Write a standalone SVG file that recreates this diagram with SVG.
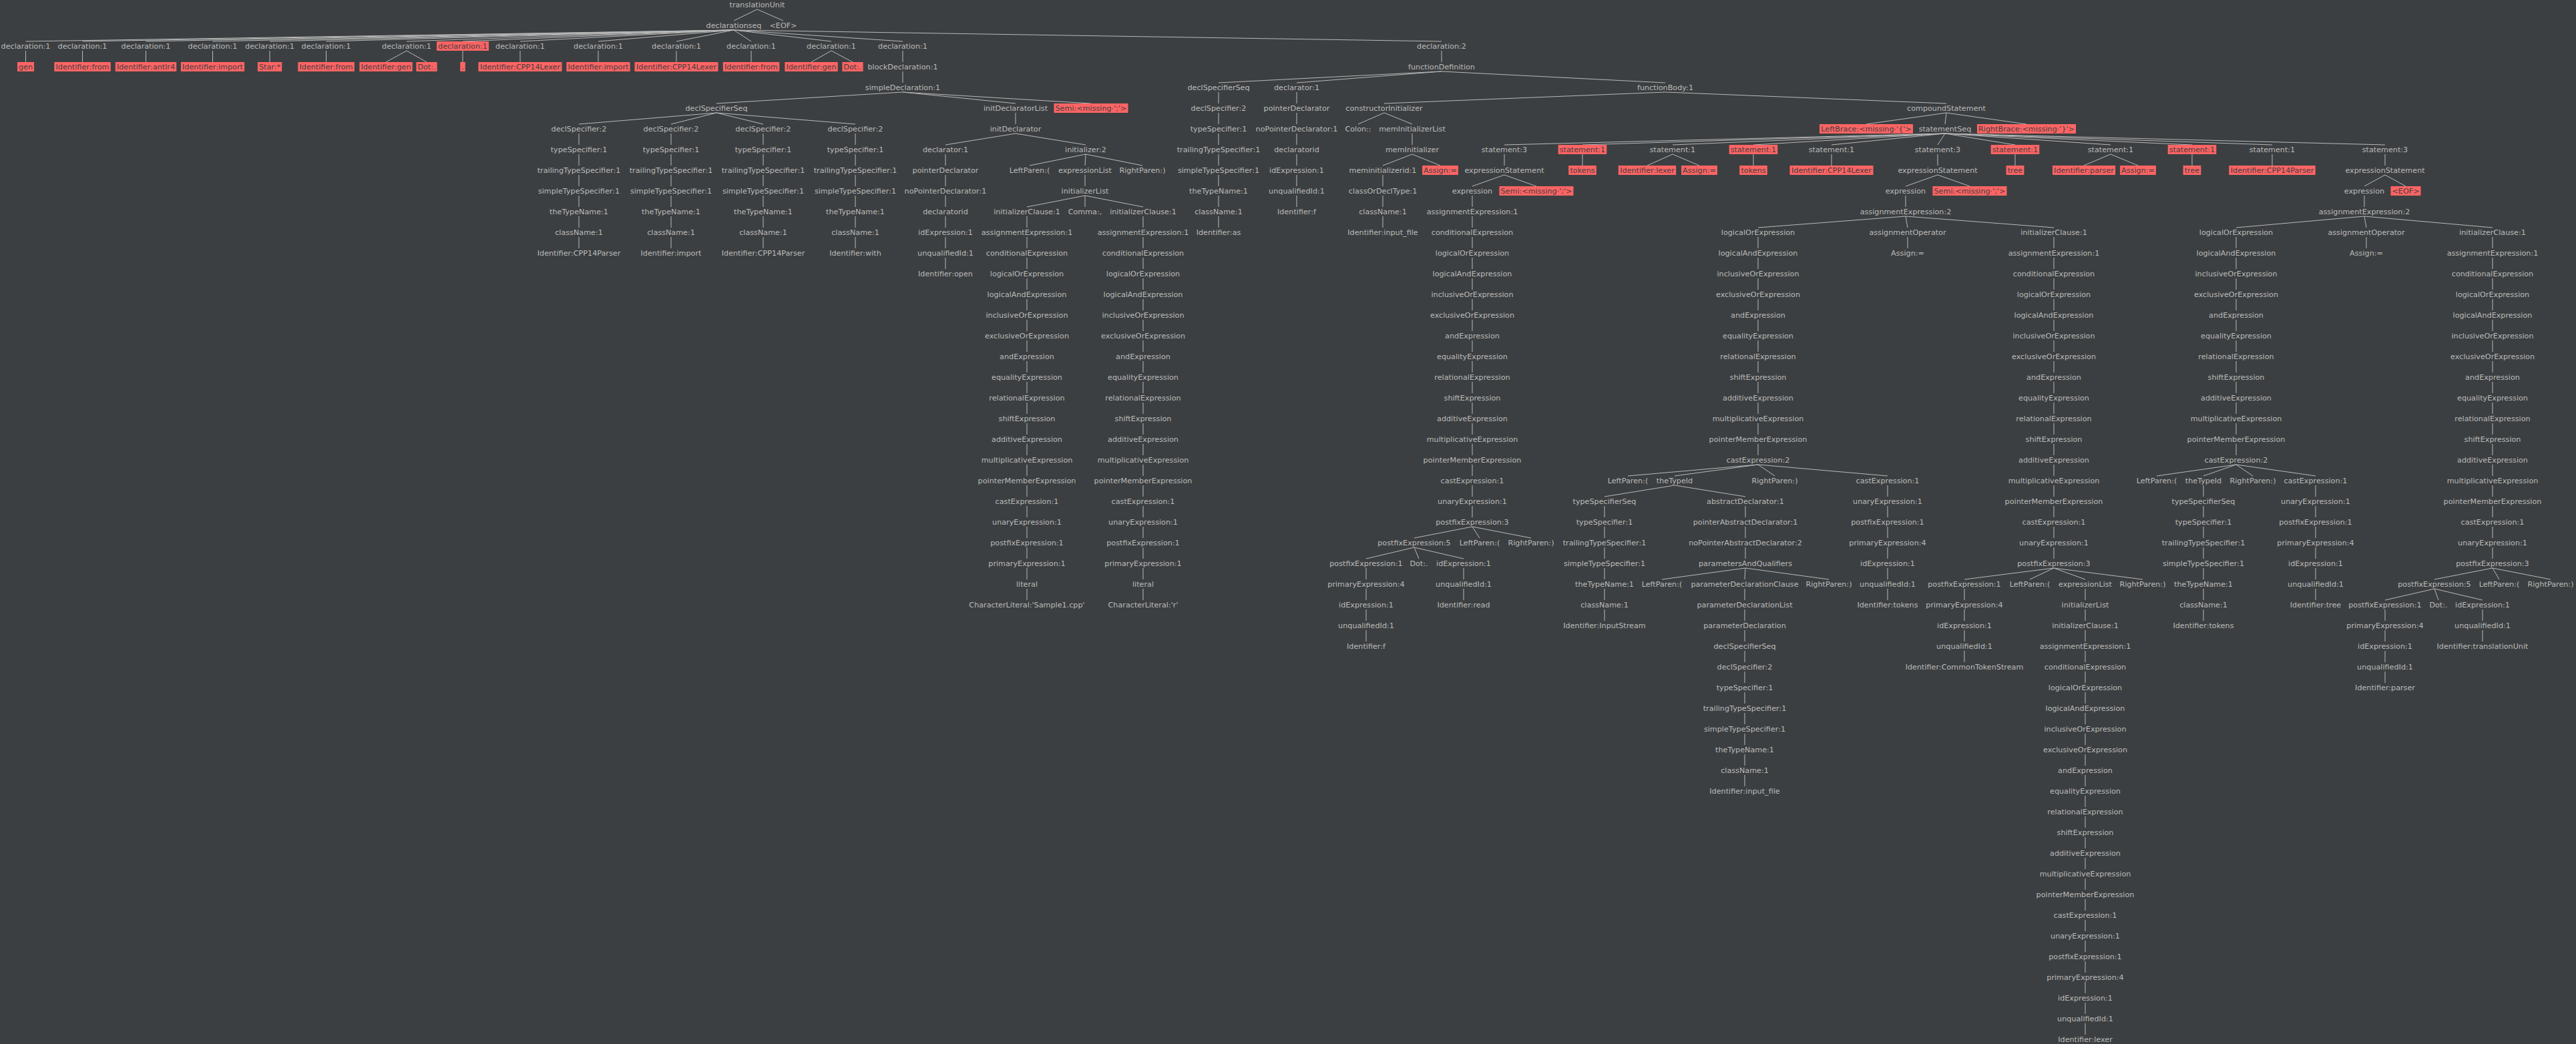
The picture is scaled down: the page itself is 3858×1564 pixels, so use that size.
<svg xmlns="http://www.w3.org/2000/svg" width="3858" height="1564" viewBox="0 0 3858 1564">
<style>
text{font-family:"DejaVu Sans","Liberation Sans",sans-serif;font-size:11.2px;text-anchor:middle;fill:#bbbbbb}
.err text{fill:#3c3f41}
.err rect{fill:#ff6464}
#edges path{fill:none;stroke:#b8b8b8;stroke-width:1}
</style>
<rect width="3858" height="1564" fill="#3c3f41"/>
<g id="edges">
<path d="M1134,14L1099,31M1134,14L1173,31"/>
<path d="M1099,45L38.5,62M1099,45L123.5,62M1099,45L218.5,62M1099,45L318.5,62M1099,45L404,62M1099,45L488.5,62M1099,45L609,62M1099,45L693,62M1099,45L779,62M1099,45L896,62M1099,45L1013,62M1099,45L1125,62M1099,45L1245,62M1099,45L1352,62M1099,45L2159,62"/>
<path d="M38.5,76V93M123.5,76V93M218.5,76V93M318.5,76V93M404,76V93M488.5,76V93M609,76L578,93M609,76L639,93M693,76V93M779,76V93M896,76V93M1013,76V93M1125,76V93M1245,76L1215,93M1245,76L1277,93"/>
<path d="M1352,76v17m0,14v17"/>
<path d="M1352,138L1073,155M1352,138L1521,155M1352,138L1634,155"/>
<path d="M1073,169L867,186M1073,169L1005,186M1073,169L1143,186M1073,169L1281,186"/>
<path d="M867,200v17m0,14v17m0,14v17m0,14v17m0,14v17m0,14v17"/>
<path d="M1005,200v17m0,14v17m0,14v17m0,14v17m0,14v17m0,14v17"/>
<path d="M1143,200v17m0,14v17m0,14v17m0,14v17m0,14v17m0,14v17"/>
<path d="M1281,200v17m0,14v17m0,14v17m0,14v17m0,14v17m0,14v17"/>
<path d="M1521,169v17"/>
<path d="M1521,200L1416,217M1521,200L1626,217"/>
<path d="M1416,231v17m0,14v17m0,14v17m0,14v17m0,14v17m0,14v17"/>
<path d="M1626,231L1542,248M1626,231L1625,248M1626,231L1711,248"/>
<path d="M1625,262v17"/>
<path d="M1625,293L1538,310M1625,293L1625,310M1625,293L1712,310"/>
<path d="M1538,324v17m0,14v17m0,14v17m0,14v17m0,14v17m0,14v17m0,14v17m0,14v17m0,14v17m0,14v17m0,14v17m0,14v17m0,14v17m0,14v17m0,14v17m0,14v17m0,14v17m0,14v17m0,14v17"/>
<path d="M1712,324v17m0,14v17m0,14v17m0,14v17m0,14v17m0,14v17m0,14v17m0,14v17m0,14v17m0,14v17m0,14v17m0,14v17m0,14v17m0,14v17m0,14v17m0,14v17m0,14v17m0,14v17m0,14v17"/>
<path d="M2159,76v17"/>
<path d="M2159,107L1825,124M2159,107L1942,124M2159,107L2494,124"/>
<path d="M1825,138v17m0,14v17m0,14v17m0,14v17m0,14v17m0,14v17m0,14v17"/>
<path d="M1942,138v17m0,14v17m0,14v17m0,14v17m0,14v17m0,14v17"/>
<path d="M2494,138L2073,155M2494,138L2915,155"/>
<path d="M2073,169L2034,186M2073,169L2115,186"/>
<path d="M2115,200v17"/>
<path d="M2115,231L2071,248M2115,231L2157,248"/>
<path d="M2071,262v17m0,14v17m0,14v17"/>
<path d="M2915,169L2795,186M2915,169L2913,186M2915,169L3035,186"/>
<path d="M2913,200L2253,217M2913,200L2370,217M2913,200L2505,217M2913,200L2626,217M2913,200L2743,217M2913,200L2902,217M2913,200L3018,217M2913,200L3161,217M2913,200L3283,217M2913,200L3403,217M2913,200L3572,217"/>
<path d="M2253,231V248M2370,231V248M2505,231L2467,248M2505,231L2545,248M2626,231V248M2743,231V248M2902,231V248M3018,231V248M3161,231L3121,248M3161,231L3202,248M3283,231V248M3403,231V248M3572,231V248"/>
<path d="M2253,262L2205,279M2253,262L2301,279"/>
<path d="M2205,293v17m0,14v17m0,14v17m0,14v17m0,14v17m0,14v17m0,14v17m0,14v17m0,14v17m0,14v17m0,14v17m0,14v17m0,14v17m0,14v17m0,14v17m0,14v17"/>
<path d="M2205,789L2118,806M2205,789L2216,806M2205,789L2293,806"/>
<path d="M2118,820L2046,837M2118,820L2125,837M2118,820L2192,837"/>
<path d="M2046,851v17m0,14v17m0,14v17m0,14v17"/>
<path d="M2192,851v17m0,14v17"/>
<path d="M2902,262L2854,279M2902,262L2950,279"/>
<path d="M2854,293v17"/>
<path d="M2854,324L2633,341M2854,324L2857,341M2854,324L3076,341"/>
<path d="M2857,355v17"/>
<path d="M2633,355v17m0,14v17m0,14v17m0,14v17m0,14v17m0,14v17m0,14v17m0,14v17m0,14v17m0,14v17m0,14v17"/>
<path d="M2633,696L2438,713M2633,696L2508,713M2633,696L2658,713M2633,696L2827,713"/>
<path d="M2508,727L2403,744M2508,727L2614,744"/>
<path d="M2403,758v17m0,14v17m0,14v17m0,14v17m0,14v17m0,14v17"/>
<path d="M2614,758v17m0,14v17m0,14v17"/>
<path d="M2614,851L2489,868M2614,851L2613,868M2614,851L2739,868"/>
<path d="M2613,882v17m0,14v17m0,14v17m0,14v17m0,14v17m0,14v17m0,14v17m0,14v17m0,14v17m0,14v17"/>
<path d="M2827,727v17m0,14v17m0,14v17m0,14v17m0,14v17m0,14v17"/>
<path d="M3076,355v17m0,14v17m0,14v17m0,14v17m0,14v17m0,14v17m0,14v17m0,14v17m0,14v17m0,14v17m0,14v17m0,14v17m0,14v17m0,14v17m0,14v17m0,14v17"/>
<path d="M3076,851L2942,868M3076,851L3040,868M3076,851L3123,868M3076,851L3209,868"/>
<path d="M2942,882v17m0,14v17m0,14v17m0,14v17"/>
<path d="M3123,882v17m0,14v17m0,14v17m0,14v17m0,14v17m0,14v17m0,14v17m0,14v17m0,14v17m0,14v17m0,14v17m0,14v17m0,14v17m0,14v17m0,14v17m0,14v17m0,14v17m0,14v17m0,14v17m0,14v17m0,14v17m0,14v17"/>
<path d="M3572,262L3541,279M3572,262L3603,279"/>
<path d="M3541,293v17"/>
<path d="M3541,324L3349,341M3541,324L3544,341M3541,324L3733,341"/>
<path d="M3544,355v17"/>
<path d="M3349,355v17m0,14v17m0,14v17m0,14v17m0,14v17m0,14v17m0,14v17m0,14v17m0,14v17m0,14v17m0,14v17"/>
<path d="M3349,696L3230,713M3349,696L3300,713M3349,696L3374,713M3349,696L3468,713"/>
<path d="M3300,727v17m0,14v17m0,14v17m0,14v17m0,14v17m0,14v17m0,14v17"/>
<path d="M3468,727v17m0,14v17m0,14v17m0,14v17m0,14v17m0,14v17"/>
<path d="M3733,355v17m0,14v17m0,14v17m0,14v17m0,14v17m0,14v17m0,14v17m0,14v17m0,14v17m0,14v17m0,14v17m0,14v17m0,14v17m0,14v17m0,14v17m0,14v17"/>
<path d="M3733,851L3646,868M3733,851L3743,868M3733,851L3820,868"/>
<path d="M3646,882L3572,899M3646,882L3652,899M3646,882L3718,899"/>
<path d="M3572,913v17m0,14v17m0,14v17m0,14v17"/>
<path d="M3718,913v17m0,14v17"/>
</g>
<g id="nodes">
<g id="n1"><text x="1134" y="11">translationUnit</text></g>
<g id="n2"><text x="1099" y="42">declarationseq</text></g>
<g id="n3"><text x="1173" y="42">&lt;EOF&gt;</text></g>
<g id="n4"><text x="38.5" y="73">declaration:1</text></g>
<g id="n5"><text x="123.5" y="73">declaration:1</text></g>
<g id="n6"><text x="218.5" y="73">declaration:1</text></g>
<g id="n7"><text x="318.5" y="73">declaration:1</text></g>
<g id="n8"><text x="404" y="73">declaration:1</text></g>
<g id="n9"><text x="488.5" y="73">declaration:1</text></g>
<g id="n10"><text x="609" y="73">declaration:1</text></g>
<g id="n11" class="err"><rect x="654" y="62" width="78" height="14"/><text x="693" y="73">declaration:1</text></g>
<g id="n12"><text x="779" y="73">declaration:1</text></g>
<g id="n13"><text x="896" y="73">declaration:1</text></g>
<g id="n14"><text x="1013" y="73">declaration:1</text></g>
<g id="n15"><text x="1125" y="73">declaration:1</text></g>
<g id="n16"><text x="1245" y="73">declaration:1</text></g>
<g id="n17"><text x="1352" y="73">declaration:1</text></g>
<g id="n18"><text x="2159" y="73">declaration:2</text></g>
<g id="n19" class="err"><rect x="26" y="93" width="25" height="14"/><text x="38.5" y="104">gen</text></g>
<g id="n20" class="err"><rect x="81.3" y="93" width="84.5" height="14"/><text x="123.5" y="104">Identifier:from</text></g>
<g id="n21" class="err"><rect x="172.8" y="93" width="91.4" height="14"/><text x="218.5" y="104">Identifier:antlr4</text></g>
<g id="n22" class="err"><rect x="270.9" y="93" width="95.2" height="14"/><text x="318.5" y="104">Identifier:import</text></g>
<g id="n23" class="err"><rect x="385.9" y="93" width="36.3" height="14"/><text x="404" y="104">Star:*</text></g>
<g id="n24" class="err"><rect x="446.3" y="93" width="84.5" height="14"/><text x="488.5" y="104">Identifier:from</text></g>
<g id="n25" class="err"><rect x="538.4" y="93" width="79.3" height="14"/><text x="578" y="104">Identifier:gen</text></g>
<g id="n26" class="err"><rect x="623.4" y="93" width="31.2" height="14"/><text x="639" y="104">Dot:.</text></g>
<g id="n27" class="err"><rect x="689.2" y="93" width="7.6" height="14"/><text x="693" y="104">.</text></g>
<g id="n28" class="err"><rect x="716.5" y="93" width="125" height="14"/><text x="779" y="104">Identifier:CPP14Lexer</text></g>
<g id="n29" class="err"><rect x="848.4" y="93" width="95.2" height="14"/><text x="896" y="104">Identifier:import</text></g>
<g id="n30" class="err"><rect x="950.5" y="93" width="125" height="14"/><text x="1013" y="104">Identifier:CPP14Lexer</text></g>
<g id="n31" class="err"><rect x="1082.8" y="93" width="84.5" height="14"/><text x="1125" y="104">Identifier:from</text></g>
<g id="n32" class="err"><rect x="1175.4" y="93" width="79.3" height="14"/><text x="1215" y="104">Identifier:gen</text></g>
<g id="n33" class="err"><rect x="1261.4" y="93" width="31.2" height="14"/><text x="1277" y="104">Dot:.</text></g>
<g id="n34"><text x="1352" y="104">blockDeclaration:1</text></g>
<g id="n35"><text x="2159" y="104">functionDefinition</text></g>
<g id="n36"><text x="1352" y="135">simpleDeclaration:1</text></g>
<g id="n37"><text x="1825" y="135">declSpecifierSeq</text></g>
<g id="n38"><text x="1942" y="135">declarator:1</text></g>
<g id="n39"><text x="2494" y="135">functionBody:1</text></g>
<g id="n40"><text x="1073" y="166">declSpecifierSeq</text></g>
<g id="n41"><text x="1521" y="166">initDeclaratorList</text></g>
<g id="n42" class="err"><rect x="1578.5" y="155" width="111" height="14"/><text x="1634" y="166">Semi:&lt;missing·';'&gt;</text></g>
<g id="n43"><text x="1825" y="166">declSpecifier:2</text></g>
<g id="n44"><text x="1942" y="166">pointerDeclarator</text></g>
<g id="n45"><text x="2073" y="166">constructorInitializer</text></g>
<g id="n46"><text x="2915" y="166">compoundStatement</text></g>
<g id="n47"><text x="867" y="197">declSpecifier:2</text></g>
<g id="n48"><text x="1005" y="197">declSpecifier:2</text></g>
<g id="n49"><text x="1143" y="197">declSpecifier:2</text></g>
<g id="n50"><text x="1281" y="197">declSpecifier:2</text></g>
<g id="n51"><text x="1521" y="197">initDeclarator</text></g>
<g id="n52"><text x="1825" y="197">typeSpecifier:1</text></g>
<g id="n53"><text x="1942" y="197">noPointerDeclarator:1</text></g>
<g id="n54"><text x="2034" y="197">Colon::</text></g>
<g id="n55"><text x="2115" y="197">memInitializerList</text></g>
<g id="n56" class="err"><rect x="2725" y="186" width="140" height="14"/><text x="2795" y="197">LeftBrace:&lt;missing·'{'&gt;</text></g>
<g id="n57"><text x="2913" y="197">statementSeq</text></g>
<g id="n58" class="err"><rect x="2961" y="186" width="148" height="14"/><text x="3035" y="197">RightBrace:&lt;missing·'}'&gt;</text></g>
<g id="n59"><text x="867" y="228">typeSpecifier:1</text></g>
<g id="n60"><text x="1005" y="228">typeSpecifier:1</text></g>
<g id="n61"><text x="1143" y="228">typeSpecifier:1</text></g>
<g id="n62"><text x="1281" y="228">typeSpecifier:1</text></g>
<g id="n63"><text x="1416" y="228">declarator:1</text></g>
<g id="n64"><text x="1626" y="228">initializer:2</text></g>
<g id="n65"><text x="1825" y="228">trailingTypeSpecifier:1</text></g>
<g id="n66"><text x="1942" y="228">declaratorid</text></g>
<g id="n67"><text x="2115" y="228">memInitializer</text></g>
<g id="n68"><text x="2253" y="228">statement:3</text></g>
<g id="n69" class="err"><rect x="2333.7" y="217" width="72.6" height="14"/><text x="2370" y="228">statement:1</text></g>
<g id="n70"><text x="2505" y="228">statement:1</text></g>
<g id="n71" class="err"><rect x="2589.7" y="217" width="72.6" height="14"/><text x="2626" y="228">statement:1</text></g>
<g id="n72"><text x="2743" y="228">statement:1</text></g>
<g id="n73"><text x="2902" y="228">statement:3</text></g>
<g id="n74" class="err"><rect x="2981.7" y="217" width="72.6" height="14"/><text x="3018" y="228">statement:1</text></g>
<g id="n75"><text x="3161" y="228">statement:1</text></g>
<g id="n76" class="err"><rect x="3246.7" y="217" width="72.6" height="14"/><text x="3283" y="228">statement:1</text></g>
<g id="n77"><text x="3403" y="228">statement:1</text></g>
<g id="n78"><text x="3572" y="228">statement:3</text></g>
<g id="n79"><text x="867" y="259">trailingTypeSpecifier:1</text></g>
<g id="n80"><text x="1005" y="259">trailingTypeSpecifier:1</text></g>
<g id="n81"><text x="1143" y="259">trailingTypeSpecifier:1</text></g>
<g id="n82"><text x="1281" y="259">trailingTypeSpecifier:1</text></g>
<g id="n83"><text x="1416" y="259">pointerDeclarator</text></g>
<g id="n84"><text x="1542" y="259">LeftParen:(</text></g>
<g id="n85"><text x="1625" y="259">expressionList</text></g>
<g id="n86"><text x="1711" y="259">RightParen:)</text></g>
<g id="n87"><text x="1825" y="259">simpleTypeSpecifier:1</text></g>
<g id="n88"><text x="1942" y="259">idExpression:1</text></g>
<g id="n89"><text x="2071" y="259">meminitializerid:1</text></g>
<g id="n90" class="err"><rect x="2130.1" y="248" width="53.8" height="14"/><text x="2157" y="259">Assign:=</text></g>
<g id="n91"><text x="2253" y="259">expressionStatement</text></g>
<g id="n92" class="err"><rect x="2349.2" y="248" width="41.6" height="14"/><text x="2370" y="259">tokens</text></g>
<g id="n93" class="err"><rect x="2423.8" y="248" width="86.4" height="14"/><text x="2467" y="259">Identifier:lexer</text></g>
<g id="n94" class="err"><rect x="2518.1" y="248" width="53.8" height="14"/><text x="2545" y="259">Assign:=</text></g>
<g id="n95" class="err"><rect x="2605.2" y="248" width="41.6" height="14"/><text x="2626" y="259">tokens</text></g>
<g id="n96" class="err"><rect x="2680.5" y="248" width="125" height="14"/><text x="2743" y="259">Identifier:CPP14Lexer</text></g>
<g id="n97"><text x="2902" y="259">expressionStatement</text></g>
<g id="n98" class="err"><rect x="3004.6" y="248" width="26.8" height="14"/><text x="3018" y="259">tree</text></g>
<g id="n99" class="err"><rect x="3074" y="248" width="94.1" height="14"/><text x="3121" y="259">Identifier:parser</text></g>
<g id="n100" class="err"><rect x="3175.1" y="248" width="53.8" height="14"/><text x="3202" y="259">Assign:=</text></g>
<g id="n101" class="err"><rect x="3269.6" y="248" width="26.8" height="14"/><text x="3283" y="259">tree</text></g>
<g id="n102" class="err"><rect x="3338.3" y="248" width="129.4" height="14"/><text x="3403" y="259">Identifier:CPP14Parser</text></g>
<g id="n103"><text x="3572" y="259">expressionStatement</text></g>
<g id="n104"><text x="867" y="290">simpleTypeSpecifier:1</text></g>
<g id="n105"><text x="1005" y="290">simpleTypeSpecifier:1</text></g>
<g id="n106"><text x="1143" y="290">simpleTypeSpecifier:1</text></g>
<g id="n107"><text x="1281" y="290">simpleTypeSpecifier:1</text></g>
<g id="n108"><text x="1416" y="290">noPointerDeclarator:1</text></g>
<g id="n109"><text x="1625" y="290">initializerList</text></g>
<g id="n110"><text x="1825" y="290">theTypeName:1</text></g>
<g id="n111"><text x="1942" y="290">unqualifiedId:1</text></g>
<g id="n112"><text x="2071" y="290">classOrDeclType:1</text></g>
<g id="n113"><text x="2205" y="290">expression</text></g>
<g id="n114" class="err"><rect x="2245.5" y="279" width="111" height="14"/><text x="2301" y="290">Semi:&lt;missing·';'&gt;</text></g>
<g id="n115"><text x="2854" y="290">expression</text></g>
<g id="n116" class="err"><rect x="2894.5" y="279" width="111" height="14"/><text x="2950" y="290">Semi:&lt;missing·';'&gt;</text></g>
<g id="n117"><text x="3541" y="290">expression</text></g>
<g id="n118" class="err"><rect x="3580.5" y="279" width="45" height="14"/><text x="3603" y="290">&lt;EOF&gt;</text></g>
<g id="n119"><text x="867" y="321">theTypeName:1</text></g>
<g id="n120"><text x="1005" y="321">theTypeName:1</text></g>
<g id="n121"><text x="1143" y="321">theTypeName:1</text></g>
<g id="n122"><text x="1281" y="321">theTypeName:1</text></g>
<g id="n123"><text x="1416" y="321">declaratorid</text></g>
<g id="n124"><text x="1538" y="321">initializerClause:1</text></g>
<g id="n125"><text x="1625" y="321">Comma:,</text></g>
<g id="n126"><text x="1712" y="321">initializerClause:1</text></g>
<g id="n127"><text x="1825" y="321">className:1</text></g>
<g id="n128"><text x="1942" y="321">Identifier:f</text></g>
<g id="n129"><text x="2071" y="321">className:1</text></g>
<g id="n130"><text x="2205" y="321">assignmentExpression:1</text></g>
<g id="n131"><text x="2854" y="321">assignmentExpression:2</text></g>
<g id="n132"><text x="3541" y="321">assignmentExpression:2</text></g>
<g id="n133"><text x="867" y="352">className:1</text></g>
<g id="n134"><text x="1005" y="352">className:1</text></g>
<g id="n135"><text x="1143" y="352">className:1</text></g>
<g id="n136"><text x="1281" y="352">className:1</text></g>
<g id="n137"><text x="1416" y="352">idExpression:1</text></g>
<g id="n138"><text x="1538" y="352">assignmentExpression:1</text></g>
<g id="n139"><text x="1712" y="352">assignmentExpression:1</text></g>
<g id="n140"><text x="1825" y="352">Identifier:as</text></g>
<g id="n141"><text x="2071" y="352">Identifier:input_file</text></g>
<g id="n142"><text x="2205" y="352">conditionalExpression</text></g>
<g id="n143"><text x="2633" y="352">logicalOrExpression</text></g>
<g id="n144"><text x="2857" y="352">assignmentOperator</text></g>
<g id="n145"><text x="3076" y="352">initializerClause:1</text></g>
<g id="n146"><text x="3349" y="352">logicalOrExpression</text></g>
<g id="n147"><text x="3544" y="352">assignmentOperator</text></g>
<g id="n148"><text x="3733" y="352">initializerClause:1</text></g>
<g id="n149"><text x="867" y="383">Identifier:CPP14Parser</text></g>
<g id="n150"><text x="1005" y="383">Identifier:import</text></g>
<g id="n151"><text x="1143" y="383">Identifier:CPP14Parser</text></g>
<g id="n152"><text x="1281" y="383">Identifier:with</text></g>
<g id="n153"><text x="1416" y="383">unqualifiedId:1</text></g>
<g id="n154"><text x="1538" y="383">conditionalExpression</text></g>
<g id="n155"><text x="1712" y="383">conditionalExpression</text></g>
<g id="n156"><text x="2205" y="383">logicalOrExpression</text></g>
<g id="n157"><text x="2633" y="383">logicalAndExpression</text></g>
<g id="n158"><text x="2857" y="383">Assign:=</text></g>
<g id="n159"><text x="3076" y="383">assignmentExpression:1</text></g>
<g id="n160"><text x="3349" y="383">logicalAndExpression</text></g>
<g id="n161"><text x="3544" y="383">Assign:=</text></g>
<g id="n162"><text x="3733" y="383">assignmentExpression:1</text></g>
<g id="n163"><text x="1416" y="414">Identifier:open</text></g>
<g id="n164"><text x="1538" y="414">logicalOrExpression</text></g>
<g id="n165"><text x="1712" y="414">logicalOrExpression</text></g>
<g id="n166"><text x="2205" y="414">logicalAndExpression</text></g>
<g id="n167"><text x="2633" y="414">inclusiveOrExpression</text></g>
<g id="n168"><text x="3076" y="414">conditionalExpression</text></g>
<g id="n169"><text x="3349" y="414">inclusiveOrExpression</text></g>
<g id="n170"><text x="3733" y="414">conditionalExpression</text></g>
<g id="n171"><text x="1538" y="445">logicalAndExpression</text></g>
<g id="n172"><text x="1712" y="445">logicalAndExpression</text></g>
<g id="n173"><text x="2205" y="445">inclusiveOrExpression</text></g>
<g id="n174"><text x="2633" y="445">exclusiveOrExpression</text></g>
<g id="n175"><text x="3076" y="445">logicalOrExpression</text></g>
<g id="n176"><text x="3349" y="445">exclusiveOrExpression</text></g>
<g id="n177"><text x="3733" y="445">logicalOrExpression</text></g>
<g id="n178"><text x="1538" y="476">inclusiveOrExpression</text></g>
<g id="n179"><text x="1712" y="476">inclusiveOrExpression</text></g>
<g id="n180"><text x="2205" y="476">exclusiveOrExpression</text></g>
<g id="n181"><text x="2633" y="476">andExpression</text></g>
<g id="n182"><text x="3076" y="476">logicalAndExpression</text></g>
<g id="n183"><text x="3349" y="476">andExpression</text></g>
<g id="n184"><text x="3733" y="476">logicalAndExpression</text></g>
<g id="n185"><text x="1538" y="507">exclusiveOrExpression</text></g>
<g id="n186"><text x="1712" y="507">exclusiveOrExpression</text></g>
<g id="n187"><text x="2205" y="507">andExpression</text></g>
<g id="n188"><text x="2633" y="507">equalityExpression</text></g>
<g id="n189"><text x="3076" y="507">inclusiveOrExpression</text></g>
<g id="n190"><text x="3349" y="507">equalityExpression</text></g>
<g id="n191"><text x="3733" y="507">inclusiveOrExpression</text></g>
<g id="n192"><text x="1538" y="538">andExpression</text></g>
<g id="n193"><text x="1712" y="538">andExpression</text></g>
<g id="n194"><text x="2205" y="538">equalityExpression</text></g>
<g id="n195"><text x="2633" y="538">relationalExpression</text></g>
<g id="n196"><text x="3076" y="538">exclusiveOrExpression</text></g>
<g id="n197"><text x="3349" y="538">relationalExpression</text></g>
<g id="n198"><text x="3733" y="538">exclusiveOrExpression</text></g>
<g id="n199"><text x="1538" y="569">equalityExpression</text></g>
<g id="n200"><text x="1712" y="569">equalityExpression</text></g>
<g id="n201"><text x="2205" y="569">relationalExpression</text></g>
<g id="n202"><text x="2633" y="569">shiftExpression</text></g>
<g id="n203"><text x="3076" y="569">andExpression</text></g>
<g id="n204"><text x="3349" y="569">shiftExpression</text></g>
<g id="n205"><text x="3733" y="569">andExpression</text></g>
<g id="n206"><text x="1538" y="600">relationalExpression</text></g>
<g id="n207"><text x="1712" y="600">relationalExpression</text></g>
<g id="n208"><text x="2205" y="600">shiftExpression</text></g>
<g id="n209"><text x="2633" y="600">additiveExpression</text></g>
<g id="n210"><text x="3076" y="600">equalityExpression</text></g>
<g id="n211"><text x="3349" y="600">additiveExpression</text></g>
<g id="n212"><text x="3733" y="600">equalityExpression</text></g>
<g id="n213"><text x="1538" y="631">shiftExpression</text></g>
<g id="n214"><text x="1712" y="631">shiftExpression</text></g>
<g id="n215"><text x="2205" y="631">additiveExpression</text></g>
<g id="n216"><text x="2633" y="631">multiplicativeExpression</text></g>
<g id="n217"><text x="3076" y="631">relationalExpression</text></g>
<g id="n218"><text x="3349" y="631">multiplicativeExpression</text></g>
<g id="n219"><text x="3733" y="631">relationalExpression</text></g>
<g id="n220"><text x="1538" y="662">additiveExpression</text></g>
<g id="n221"><text x="1712" y="662">additiveExpression</text></g>
<g id="n222"><text x="2205" y="662">multiplicativeExpression</text></g>
<g id="n223"><text x="2633" y="662">pointerMemberExpression</text></g>
<g id="n224"><text x="3076" y="662">shiftExpression</text></g>
<g id="n225"><text x="3349" y="662">pointerMemberExpression</text></g>
<g id="n226"><text x="3733" y="662">shiftExpression</text></g>
<g id="n227"><text x="1538" y="693">multiplicativeExpression</text></g>
<g id="n228"><text x="1712" y="693">multiplicativeExpression</text></g>
<g id="n229"><text x="2205" y="693">pointerMemberExpression</text></g>
<g id="n230"><text x="2633" y="693">castExpression:2</text></g>
<g id="n231"><text x="3076" y="693">additiveExpression</text></g>
<g id="n232"><text x="3349" y="693">castExpression:2</text></g>
<g id="n233"><text x="3733" y="693">additiveExpression</text></g>
<g id="n234"><text x="1538" y="724">pointerMemberExpression</text></g>
<g id="n235"><text x="1712" y="724">pointerMemberExpression</text></g>
<g id="n236"><text x="2205" y="724">castExpression:1</text></g>
<g id="n237"><text x="2438" y="724">LeftParen:(</text></g>
<g id="n238"><text x="2508" y="724">theTypeId</text></g>
<g id="n239"><text x="2658" y="724">RightParen:)</text></g>
<g id="n240"><text x="2827" y="724">castExpression:1</text></g>
<g id="n241"><text x="3076" y="724">multiplicativeExpression</text></g>
<g id="n242"><text x="3230" y="724">LeftParen:(</text></g>
<g id="n243"><text x="3300" y="724">theTypeId</text></g>
<g id="n244"><text x="3374" y="724">RightParen:)</text></g>
<g id="n245"><text x="3468" y="724">castExpression:1</text></g>
<g id="n246"><text x="3733" y="724">multiplicativeExpression</text></g>
<g id="n247"><text x="1538" y="755">castExpression:1</text></g>
<g id="n248"><text x="1712" y="755">castExpression:1</text></g>
<g id="n249"><text x="2205" y="755">unaryExpression:1</text></g>
<g id="n250"><text x="2403" y="755">typeSpecifierSeq</text></g>
<g id="n251"><text x="2614" y="755">abstractDeclarator:1</text></g>
<g id="n252"><text x="2827" y="755">unaryExpression:1</text></g>
<g id="n253"><text x="3076" y="755">pointerMemberExpression</text></g>
<g id="n254"><text x="3300" y="755">typeSpecifierSeq</text></g>
<g id="n255"><text x="3468" y="755">unaryExpression:1</text></g>
<g id="n256"><text x="3733" y="755">pointerMemberExpression</text></g>
<g id="n257"><text x="1538" y="786">unaryExpression:1</text></g>
<g id="n258"><text x="1712" y="786">unaryExpression:1</text></g>
<g id="n259"><text x="2205" y="786">postfixExpression:3</text></g>
<g id="n260"><text x="2403" y="786">typeSpecifier:1</text></g>
<g id="n261"><text x="2614" y="786">pointerAbstractDeclarator:1</text></g>
<g id="n262"><text x="2827" y="786">postfixExpression:1</text></g>
<g id="n263"><text x="3076" y="786">castExpression:1</text></g>
<g id="n264"><text x="3300" y="786">typeSpecifier:1</text></g>
<g id="n265"><text x="3468" y="786">postfixExpression:1</text></g>
<g id="n266"><text x="3733" y="786">castExpression:1</text></g>
<g id="n267"><text x="1538" y="817">postfixExpression:1</text></g>
<g id="n268"><text x="1712" y="817">postfixExpression:1</text></g>
<g id="n269"><text x="2118" y="817">postfixExpression:5</text></g>
<g id="n270"><text x="2216" y="817">LeftParen:(</text></g>
<g id="n271"><text x="2293" y="817">RightParen:)</text></g>
<g id="n272"><text x="2403" y="817">trailingTypeSpecifier:1</text></g>
<g id="n273"><text x="2614" y="817">noPointerAbstractDeclarator:2</text></g>
<g id="n274"><text x="2827" y="817">primaryExpression:4</text></g>
<g id="n275"><text x="3076" y="817">unaryExpression:1</text></g>
<g id="n276"><text x="3300" y="817">trailingTypeSpecifier:1</text></g>
<g id="n277"><text x="3468" y="817">primaryExpression:4</text></g>
<g id="n278"><text x="3733" y="817">unaryExpression:1</text></g>
<g id="n279"><text x="1538" y="848">primaryExpression:1</text></g>
<g id="n280"><text x="1712" y="848">primaryExpression:1</text></g>
<g id="n281"><text x="2046" y="848">postfixExpression:1</text></g>
<g id="n282"><text x="2125" y="848">Dot:.</text></g>
<g id="n283"><text x="2192" y="848">idExpression:1</text></g>
<g id="n284"><text x="2403" y="848">simpleTypeSpecifier:1</text></g>
<g id="n285"><text x="2614" y="848">parametersAndQualifiers</text></g>
<g id="n286"><text x="2827" y="848">idExpression:1</text></g>
<g id="n287"><text x="3076" y="848">postfixExpression:3</text></g>
<g id="n288"><text x="3300" y="848">simpleTypeSpecifier:1</text></g>
<g id="n289"><text x="3468" y="848">idExpression:1</text></g>
<g id="n290"><text x="3733" y="848">postfixExpression:3</text></g>
<g id="n291"><text x="1538" y="879">literal</text></g>
<g id="n292"><text x="1712" y="879">literal</text></g>
<g id="n293"><text x="2046" y="879">primaryExpression:4</text></g>
<g id="n294"><text x="2192" y="879">unqualifiedId:1</text></g>
<g id="n295"><text x="2403" y="879">theTypeName:1</text></g>
<g id="n296"><text x="2489" y="879">LeftParen:(</text></g>
<g id="n297"><text x="2613" y="879">parameterDeclarationClause</text></g>
<g id="n298"><text x="2739" y="879">RightParen:)</text></g>
<g id="n299"><text x="2827" y="879">unqualifiedId:1</text></g>
<g id="n300"><text x="2942" y="879">postfixExpression:1</text></g>
<g id="n301"><text x="3040" y="879">LeftParen:(</text></g>
<g id="n302"><text x="3123" y="879">expressionList</text></g>
<g id="n303"><text x="3209" y="879">RightParen:)</text></g>
<g id="n304"><text x="3300" y="879">theTypeName:1</text></g>
<g id="n305"><text x="3468" y="879">unqualifiedId:1</text></g>
<g id="n306"><text x="3646" y="879">postfixExpression:5</text></g>
<g id="n307"><text x="3743" y="879">LeftParen:(</text></g>
<g id="n308"><text x="3820" y="879">RightParen:)</text></g>
<g id="n309"><text x="1538" y="910">CharacterLiteral:'Sample1.cpp'</text></g>
<g id="n310"><text x="1712" y="910">CharacterLiteral:'r'</text></g>
<g id="n311"><text x="2046" y="910">idExpression:1</text></g>
<g id="n312"><text x="2192" y="910">Identifier:read</text></g>
<g id="n313"><text x="2403" y="910">className:1</text></g>
<g id="n314"><text x="2613" y="910">parameterDeclarationList</text></g>
<g id="n315"><text x="2827" y="910">Identifier:tokens</text></g>
<g id="n316"><text x="2942" y="910">primaryExpression:4</text></g>
<g id="n317"><text x="3123" y="910">initializerList</text></g>
<g id="n318"><text x="3300" y="910">className:1</text></g>
<g id="n319"><text x="3468" y="910">Identifier:tree</text></g>
<g id="n320"><text x="3572" y="910">postfixExpression:1</text></g>
<g id="n321"><text x="3652" y="910">Dot:.</text></g>
<g id="n322"><text x="3718" y="910">idExpression:1</text></g>
<g id="n323"><text x="2046" y="941">unqualifiedId:1</text></g>
<g id="n324"><text x="2403" y="941">Identifier:InputStream</text></g>
<g id="n325"><text x="2613" y="941">parameterDeclaration</text></g>
<g id="n326"><text x="2942" y="941">idExpression:1</text></g>
<g id="n327"><text x="3123" y="941">initializerClause:1</text></g>
<g id="n328"><text x="3300" y="941">Identifier:tokens</text></g>
<g id="n329"><text x="3572" y="941">primaryExpression:4</text></g>
<g id="n330"><text x="3718" y="941">unqualifiedId:1</text></g>
<g id="n331"><text x="2046" y="972">Identifier:f</text></g>
<g id="n332"><text x="2613" y="972">declSpecifierSeq</text></g>
<g id="n333"><text x="2942" y="972">unqualifiedId:1</text></g>
<g id="n334"><text x="3123" y="972">assignmentExpression:1</text></g>
<g id="n335"><text x="3572" y="972">idExpression:1</text></g>
<g id="n336"><text x="3718" y="972">Identifier:translationUnit</text></g>
<g id="n337"><text x="2613" y="1003">declSpecifier:2</text></g>
<g id="n338"><text x="2942" y="1003">Identifier:CommonTokenStream</text></g>
<g id="n339"><text x="3123" y="1003">conditionalExpression</text></g>
<g id="n340"><text x="3572" y="1003">unqualifiedId:1</text></g>
<g id="n341"><text x="2613" y="1034">typeSpecifier:1</text></g>
<g id="n342"><text x="3123" y="1034">logicalOrExpression</text></g>
<g id="n343"><text x="3572" y="1034">Identifier:parser</text></g>
<g id="n344"><text x="2613" y="1065">trailingTypeSpecifier:1</text></g>
<g id="n345"><text x="3123" y="1065">logicalAndExpression</text></g>
<g id="n346"><text x="2613" y="1096">simpleTypeSpecifier:1</text></g>
<g id="n347"><text x="3123" y="1096">inclusiveOrExpression</text></g>
<g id="n348"><text x="2613" y="1127">theTypeName:1</text></g>
<g id="n349"><text x="3123" y="1127">exclusiveOrExpression</text></g>
<g id="n350"><text x="2613" y="1158">className:1</text></g>
<g id="n351"><text x="3123" y="1158">andExpression</text></g>
<g id="n352"><text x="2613" y="1189">Identifier:input_file</text></g>
<g id="n353"><text x="3123" y="1189">equalityExpression</text></g>
<g id="n354"><text x="3123" y="1220">relationalExpression</text></g>
<g id="n355"><text x="3123" y="1251">shiftExpression</text></g>
<g id="n356"><text x="3123" y="1282">additiveExpression</text></g>
<g id="n357"><text x="3123" y="1313">multiplicativeExpression</text></g>
<g id="n358"><text x="3123" y="1344">pointerMemberExpression</text></g>
<g id="n359"><text x="3123" y="1375">castExpression:1</text></g>
<g id="n360"><text x="3123" y="1406">unaryExpression:1</text></g>
<g id="n361"><text x="3123" y="1437">postfixExpression:1</text></g>
<g id="n362"><text x="3123" y="1468">primaryExpression:4</text></g>
<g id="n363"><text x="3123" y="1499">idExpression:1</text></g>
<g id="n364"><text x="3123" y="1530">unqualifiedId:1</text></g>
<g id="n365"><text x="3123" y="1561">Identifier:lexer</text></g>
</g>
</svg>
